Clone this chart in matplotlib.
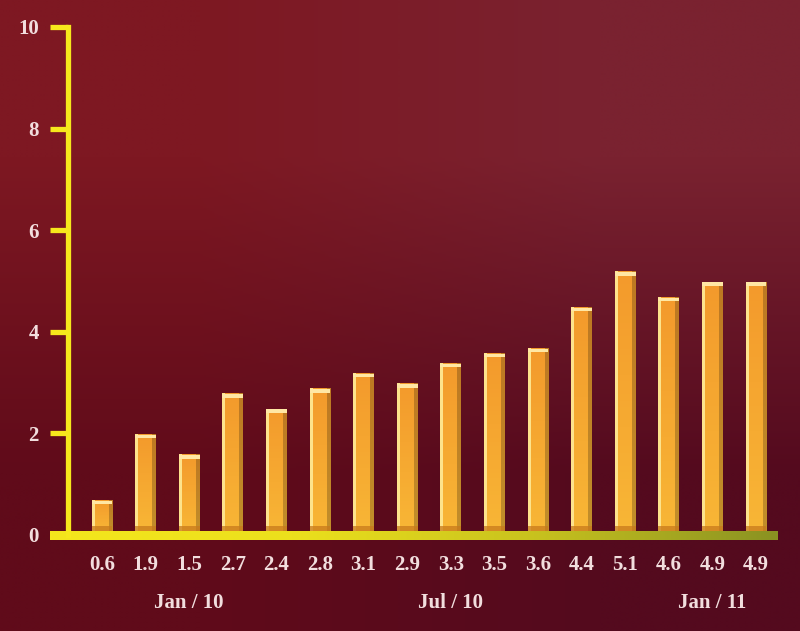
import numpy as np
import matplotlib
matplotlib.use('Agg')
import matplotlib.pyplot as plt
from matplotlib.colors import to_rgb

# Datos
valores = [0.6, 1.9, 1.5, 2.7, 2.4, 2.8, 3.1, 2.9, 3.3, 3.5, 3.6, 4.4, 5.1, 4.6, 4.9, 4.9]
etiquetas_valor = ['0.6', '1.9', '1.5', '2.7', '2.4', '2.8', '3.1', '2.9', '3.3', '3.5',
                   '3.6', '4.4', '5.1', '4.6', '4.9', '4.9']
meses = ['Jan / 10', 'Jul / 10', 'Jan / 11']
pos_meses = [2, 8, 14]
yticks = [0, 2, 4, 6, 8, 10]

amarillo = '#f6e81c'
texto = '#f2dede'
fuente = 'Liberation Serif'
tam = 15

fig = plt.figure(figsize=(8, 6.31), dpi=100)

# fondo degradado
fondo = fig.add_axes([0, 0, 1, 1], zorder=0)
esquinas = np.array([[to_rgb('#7e1822'), to_rgb('#7a2230')],
                     [to_rgb('#600b1a'), to_rgb('#540a1e')]])
fondo.imshow(esquinas, extent=[0, 1, 0, 1], aspect='auto', interpolation='bilinear')
fondo.axis('off')

ax = fig.add_axes([0, 0, 1, 1], zorder=1)
ax.patch.set_alpha(0)
ax.set_xlim(-2.34, 16.01)
ax.set_ylim(-1.89, 10.53)

x = np.arange(len(valores))
ancho = 0.48
base = 0.07

# piso
piso_cols = np.array([to_rgb('#f4e61c'), to_rgb('#ece01c'), to_rgb('#c8c21e'), to_rgb('#8a9222')])
piso = np.linspace(0, 1, 200)
piso_img = np.stack([np.interp(piso, np.linspace(0, 1, 4), piso_cols[:, k]) for k in range(3)], axis=-1)
ax.imshow(piso_img[np.newaxis, :, :], extent=[-1.19, 15.5, -0.09, base], aspect='auto',
          interpolation='bilinear', zorder=2)

# barras con aspecto 3D
barras = ax.bar(x, valores, width=ancho, bottom=base, color='#f5a630', zorder=3)
perfil = np.linspace(0, 1, 24)
for b in barras:
    x0, y0 = b.get_x(), b.get_y()
    w, h = b.get_width(), b.get_height()
    filas = []
    for t in np.linspace(0, 1, 40):
        arriba = np.array(to_rgb('#f39a2c'))
        abajo = np.array(to_rgb('#f8b636'))
        principal = arriba * (1 - t) + abajo * t
        fila = []
        for p in perfil:
            if p < 0.13:
                fila.append(to_rgb('#fde38c'))
            elif p > 0.8:
                fila.append(principal * 0.78)
            else:
                fila.append(principal)
        filas.append(fila)
    img = np.array(filas)
    ax.imshow(img, extent=[x0, x0 + w, y0, y0 + h], aspect='auto',
              interpolation='nearest', zorder=4)
ax.bar(x, 0.07, width=ancho, bottom=np.array(valores) + base - 0.07, color='#ffe7a4', zorder=5)
ax.bar(x, 0.1, width=ancho, bottom=base, color='#c87a1c', alpha=0.75, zorder=5)

# eje y
ax.spines[['top', 'right', 'bottom']].set_visible(False)
ax.spines['left'].set_position(('data', -0.78))
ax.spines['left'].set_bounds(0, 10)
ax.spines['left'].set_color(amarillo)
ax.spines['left'].set_linewidth(3.8)
ax.spines['left'].set_zorder(6)
ax.set_yticks(yticks)
ax.set_yticklabels([str(v) for v in yticks], fontfamily=fuente, fontweight='bold',
                   fontsize=tam, color=texto)
ax.tick_params(axis='y', direction='out', length=13, width=3.8, color=amarillo, pad=8)
ax.set_xticks([])

for xi, et in zip(x, etiquetas_valor):
    ax.text(xi, -0.59, et, ha='center', va='center', fontfamily=fuente, fontweight='bold',
            fontsize=tam, color=texto, zorder=6)
for xi, m in zip(pos_meses, meses):
    ax.text(xi, -1.34, m, ha='center', va='center', fontfamily=fuente, fontweight='bold',
            fontsize=tam, color=texto, zorder=6)

plt.savefig('out.png', dpi=100)
